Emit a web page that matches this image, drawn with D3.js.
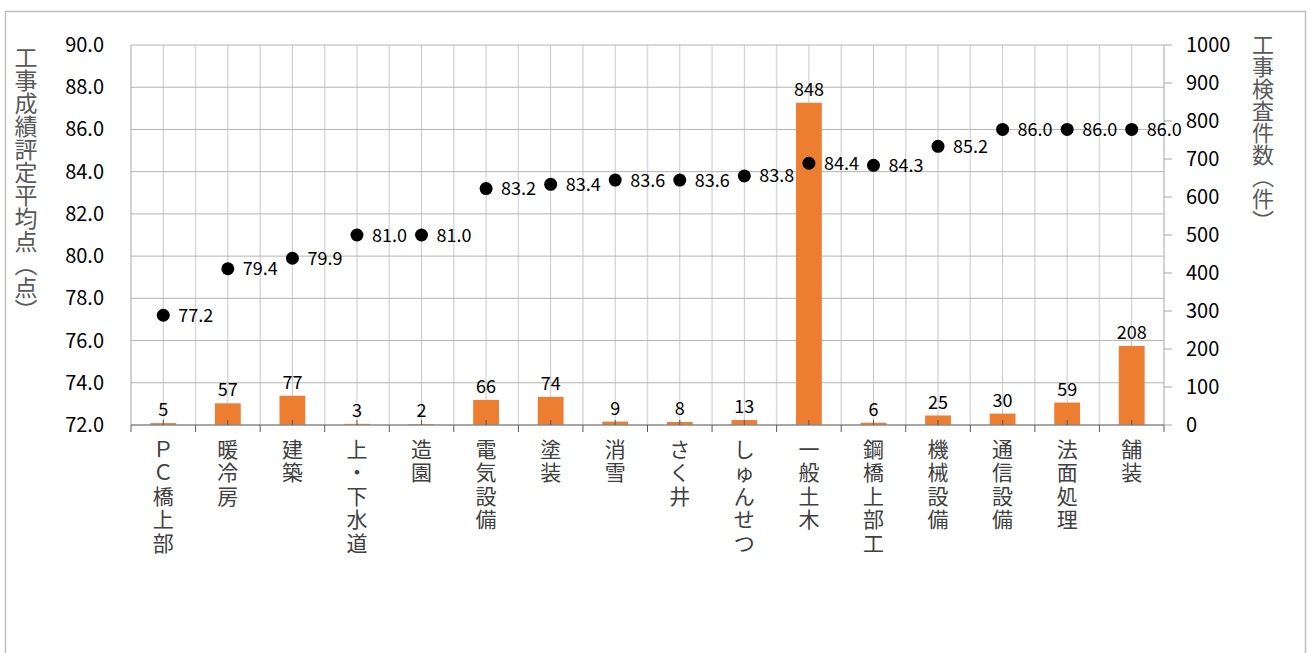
<!DOCTYPE html>
<html>
<head>
<meta charset="utf-8">
<script src="https://cdn.jsdelivr.net/npm/d3@7"></script>
<style>
  body { margin: 0; background: #fff; }
  svg { display: block; font-family: "Noto Sans CJK JP", "Noto Sans", sans-serif; }
</style>
</head>
<body>
<svg id="chart" width="1311" height="653"></svg>
<script>
// categories (工種)
var categories = ["ＰＣ橋上部", "暖冷房", "建築", "上・下水道", "造園", "電気設備", "塗装", "消雪",
  "さく井", "しゅんせつ", "一般土木", "鋼橋上部工", "機械設備", "通信設備", "法面処理", "舗装"];
// 工事検査件数（件）
var counts = [5, 57, 77, 3, 2, 66, 74, 9, 8, 13, 848, 6, 25, 30, 59, 208];
// 工事成績評定平均点（点）
var scores = [77.2, 79.4, 79.9, 81.0, 81.0, 83.2, 83.4, 83.6, 83.6, 83.8, 84.4, 84.3, 85.2, 86.0, 86.0, 86.0];
var leftTicks = [72, 74, 76, 78, 80, 82, 84, 86, 88, 90];
var rightTicks = [0, 100, 200, 300, 400, 500, 600, 700, 800, 900, 1000];

var svg = d3.select("#chart");
var pL = 131, pR = 1164, pT = 45, pB = 425;

// chart frame
svg.append("rect")
  .attr("x", 5.5).attr("y", 11.5)
  .attr("width", 1300).attr("height", 660)
  .attr("fill", "#fff").attr("stroke", "#bfbfbf").attr("stroke-width", 1.5);

var x = d3.scaleBand().domain(categories).range([pL, pR]);
var yL = d3.scaleLinear().domain([72, 90]).range([pB, pT]);
var yR = d3.scaleLinear().domain([0, 1000]).range([pB, pT]);
var cx = d => x(d) + x.bandwidth() / 2;

// vertical gridlines: category boundaries (light) and centres (a bit darker)
var bounds = categories.map(function(c) { return x(c); }).concat([pR]);
svg.append("g").selectAll("line").data(bounds.slice(1, -1)).join("line")
  .attr("x1", d => d).attr("x2", d => d).attr("y1", pT).attr("y2", pB)
  .attr("stroke", "#d9d9d9").attr("stroke-width", 1.5);
svg.append("g").selectAll("line").data(categories).join("line")
  .attr("x1", cx).attr("x2", cx)
  .attr("y1", pT).attr("y2", pB)
  .attr("stroke", "#c8c8c8").attr("stroke-width", 1);

// horizontal gridlines
svg.append("g").selectAll("line").data(leftTicks.slice(1)).join("line")
  .attr("x1", pL).attr("x2", pR).attr("y1", d => yL(d)).attr("y2", d => yL(d))
  .attr("stroke", "#b4b4b4").attr("stroke-width", 1);

// axis lines
svg.append("line").attr("x1", pL).attr("x2", pL).attr("y1", pT).attr("y2", pB)
  .attr("stroke", "#a6a6a6");
svg.append("line").attr("x1", pR).attr("x2", pR).attr("y1", pT).attr("y2", pB)
  .attr("stroke", "#a6a6a6");

// bars
var bw = x.bandwidth() * 0.4;
svg.append("g").selectAll("rect").data(categories).join("rect")
  .attr("x", (d) => x(d) + (x.bandwidth() - bw) / 2)
  .attr("width", bw)
  .attr("y", (d, i) => yR(counts[i]))
  .attr("height", (d, i) => pB - yR(counts[i]))
  .attr("fill", "#ed7d31");

// bar labels
svg.append("g").selectAll("text").data(categories).join("text")
  .attr("x", cx)
  .attr("y", (d, i) => yR(counts[i]) - 7)
  .attr("text-anchor", "middle")
  .attr("font-size", 18).attr("fill", "#000")
  .text((d, i) => counts[i]);

// category axis
svg.append("line").attr("x1", pL).attr("x2", pR).attr("y1", pB).attr("y2", pB)
  .attr("stroke", "#898989").attr("stroke-width", 1.5);
svg.append("g").selectAll("line").data(bounds).join("line")
  .attr("x1", d => d).attr("x2", d => d).attr("y1", pB).attr("y2", pB + 7)
  .attr("stroke", "#595959").attr("stroke-width", 1);
svg.append("g").selectAll("line").data(categories).join("line")
  .attr("x1", cx).attr("x2", cx)
  .attr("y1", pB - 5).attr("y2", pB)
  .attr("stroke", "#595959").attr("stroke-width", 1);

// category labels, stacked one character per line
var catT = svg.append("g").selectAll("text").data(categories).join("text")
  .attr("x", cx).attr("y", 457)
  .attr("text-anchor", "middle")
  .attr("font-size", 21).attr("fill", "#404040");
catT.selectAll("tspan").data(d => Array.from(d)).join("tspan")
  .attr("x", function() { return this.parentNode.getAttribute("x"); })
  .attr("dy", (d, i) => i === 0 ? 0 : 23.4)
  .text(d => d);

// left ticks
svg.append("g").selectAll("text").data(leftTicks).join("text")
  .attr("x", 104).attr("y", d => yL(d) + 7)
  .attr("text-anchor", "end")
  .attr("font-size", 20).attr("fill", "#000")
  .text(d => d.toFixed(1));

// right ticks
svg.append("g").selectAll("line").data(rightTicks).join("line")
  .attr("x1", pR).attr("x2", pR + 8).attr("y1", d => yR(d)).attr("y2", d => yR(d))
  .attr("stroke", "#a6a6a6");
svg.append("g").selectAll("text").data(rightTicks).join("text")
  .attr("x", 1186).attr("y", d => yR(d) + 7)
  .attr("font-size", 20).attr("fill", "#000")
  .text(d => d);

// score dots
svg.append("g").selectAll("circle").data(categories).join("circle")
  .attr("cx", cx)
  .attr("cy", (d, i) => yL(scores[i]))
  .attr("r", 6.5).attr("fill", "#000");
svg.append("g").selectAll("text").data(categories).join("text")
  .attr("x", d => cx(d) + 15)
  .attr("y", (d, i) => yL(scores[i]) + 6.5)
  .attr("font-size", 18).attr("fill", "#000")
  .text((d, i) => scores[i].toFixed(1));

// axis titles, vertical writing
function vTitle(str, tx, y0, fs) {
  svg.append("text")
    .attr("x", tx).attr("y", y0)
    .style("writing-mode", "vertical-rl")
    .style("text-orientation", "upright")
    .attr("font-size", fs).attr("fill", "#595959")
    .text(str);
}
vTitle("工事成績評定平均点（点）", 26, 46, 23);
vTitle("工事検査件数（件）", 1263, 34, 22);
</script>
</body>
</html>
